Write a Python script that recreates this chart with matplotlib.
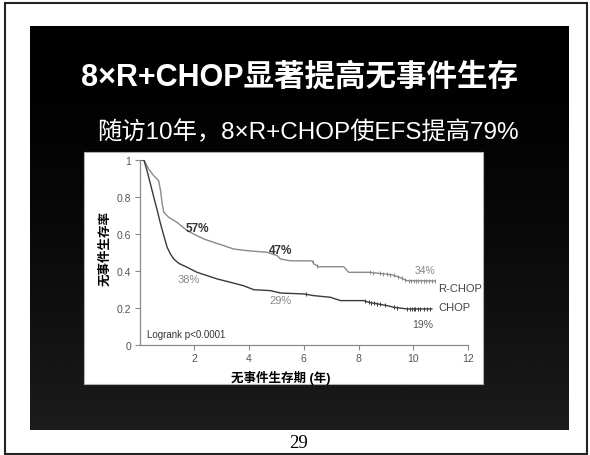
import numpy as np
import matplotlib
matplotlib.use("Agg")
import matplotlib.pyplot as plt
from matplotlib.patches import Rectangle

plt.rcParams['font.family'] = ['Liberation Sans', 'Noto Sans CJK SC', 'DejaVu Sans']

# Kaplan-Meier curves (years, event-free survival)
rchop_t = [0, 0.16, 0.34, 0.52, 0.70, 0.77, 0.83, 0.89, 1.07, 1.37, 1.74, 1.98, 2.35, 2.71,
           3.08, 3.44, 3.93, 4.66, 5.03, 5.15, 5.51, 6.30, 6.36, 6.54, 7.46, 7.64, 8.40,
           9.20, 9.50, 9.77, 10.80]
rchop_s = [1.0, 1.0, 0.95, 0.915, 0.888, 0.834, 0.762, 0.717, 0.69, 0.663, 0.618, 0.600, 0.573, 0.555,
           0.537, 0.519, 0.51, 0.501, 0.483, 0.465, 0.455, 0.455, 0.44, 0.423, 0.423, 0.393, 0.393,
           0.38, 0.366, 0.348, 0.346]
chop_t = [0, 0.16, 0.28, 0.40, 0.52, 0.65, 0.77, 0.89, 1.01, 1.13, 1.25, 1.44, 1.74, 2.10,
          2.47, 2.84, 3.32, 3.81, 4.17, 4.78, 5.15, 6.00, 6.36, 6.97, 7.34, 8.19, 8.37,
          9.04, 9.28, 9.77, 10.68]
chop_s = [1.0, 1.0, 0.94, 0.87, 0.80, 0.726, 0.654, 0.59, 0.528, 0.492, 0.465, 0.441, 0.42, 0.393,
          0.375, 0.357, 0.339, 0.32, 0.299, 0.294, 0.281, 0.276, 0.267, 0.258, 0.24, 0.24, 0.231,
          0.213, 0.204, 0.195, 0.195]

# censored observations (tick marks)
rchop_cens = [6.32, 6.50, 8.43, 8.52, 8.80, 8.89, 9.04, 9.16, 9.28, 9.46, 9.59, 9.71, 9.83, 9.92,
              10.01, 10.11, 10.19, 10.29, 10.38, 10.47, 10.56, 10.68, 10.80]
chop_cens = [6.10, 8.25, 8.37, 8.46, 8.55, 8.67, 8.80, 8.98, 9.28, 9.40, 9.77, 9.89, 9.95, 10.01,
             10.07, 10.16, 10.26, 10.38, 10.52, 10.62]

yticks = [0, 0.2, 0.4, 0.6, 0.8, 1.0]
ytick_labels = ['0', '0.2', '0.4', '0.6', '0.8', '1']
xticks = [2, 4, 6, 8, 10, 12]

title = '8×R+CHOP显著提高无事件生存'
subtitle = '随访10年，8×R+CHOP使EFS提高79%'

W, H = 590, 456
fig = plt.figure(figsize=(W / 100, H / 100), dpi=100)
fig.patch.set_facecolor('white')

def fx(px):
    return px / W

def fy(py):
    return 1 - py / H

# dark slide with a soft vertical gradient
bg = fig.add_axes([fx(30), fy(431), fx(539), 404 / H], zorder=0)
grad = np.linspace(0, 1, 256).reshape(-1, 1) ** 1.6
bg.imshow(grad, aspect='auto', cmap='gray', vmin=0, vmax=1 / 0.11,
          extent=[0, 1, 0, 1], origin='upper')
bg.set_axis_off()

# white panel holding the chart
fig.patches.append(Rectangle((fx(84), fy(385)), fx(399), 232 / H, transform=fig.transFigure,
                             facecolor='white', edgecolor='#b0b0b0', lw=0.8, zorder=1))
# page frame
fig.patches.append(Rectangle((fx(4.5), fy(454.5)), fx(582.5), 451 / H, transform=fig.transFigure,
                             fill=False, edgecolor='#222222', lw=1.5, zorder=1))

fig.text(fx(299), fy(78), title, color='white', fontsize=22, fontweight='bold',
         ha='center', va='center', zorder=3)
fig.text(fx(308), fy(132), subtitle, color='white', fontsize=17.5,
         ha='center', va='center', zorder=3)
fig.text(fx(298), fy(444), '29', family='Liberation Serif', fontsize=13.5, color='black',
         ha='center', va='center', zorder=3)

ax = fig.add_axes([fx(139.5), fy(346), fx(328.5), 185 / H], zorder=2)
ax.set_facecolor('none')

c_r = '#8a8a8a'
c_c = '#3a3a3a'
ax.plot(rchop_t, rchop_s, color=c_r, lw=1.0)
ax.plot(chop_t, chop_s, color=c_c, lw=1.0)
ax.plot(rchop_cens, np.interp(rchop_cens, rchop_t, rchop_s), ls='none', marker='|',
        ms=3.5, mew=0.7, color=c_r)
ax.plot(chop_cens, np.interp(chop_cens, chop_t, chop_s), ls='none', marker='|',
        ms=3.5, mew=0.7, color=c_c)

ax.text(2.12, 0.63, '57%', fontsize=8.5, fontweight='bold', color='#333333', ha='center', va='center')
ax.text(5.15, 0.515, '47%', fontsize=8.5, fontweight='bold', color='#333333', ha='center', va='center')
ax.text(1.8, 0.357, '38%', fontsize=8, color='#888888', ha='center', va='center')
ax.text(5.15, 0.243, '29%', fontsize=8, color='#888888', ha='center', va='center')
ax.text(10.44, 0.407, '34%', fontsize=7.5, color='#888888', ha='center', va='center')
ax.text(10.35, 0.114, '19%', fontsize=7.5, color='#555555', ha='center', va='center')
ax.text(10.92, 0.31, 'R-CHOP', fontsize=8, color='#444444', ha='left', va='center')
ax.text(10.92, 0.204, 'CHOP', fontsize=8, color='#444444', ha='left', va='center')
ax.text(0.28, 0.06, 'Logrank p<0.0001', fontsize=7, color='#333333', ha='left', va='center')

ax.set_xlim(0, 12)
ax.set_ylim(0, 1)
ax.set_xticks(xticks)
ax.set_yticks(yticks)
ax.set_yticklabels(ytick_labels)
for side in ['top', 'right']:
    ax.spines[side].set_visible(False)
for side in ['left', 'bottom']:
    ax.spines[side].set_color('#8a8a8a')
    ax.spines[side].set_linewidth(0.9)
ax.tick_params(length=3.5, width=0.8, color='#8a8a8a', labelsize=7.5, labelcolor='#555555', pad=2.5)

fig.text(fx(105), fy(248), '无事件生存率', rotation=90, fontsize=9, fontweight='bold',
         ha='center', va='center', zorder=3)
fig.text(fx(281), fy(378), '无事件生存期 (年)', fontsize=9, fontweight='bold',
         ha='center', va='center', zorder=3)

fig.savefig('out.png', dpi=100, facecolor='white')
